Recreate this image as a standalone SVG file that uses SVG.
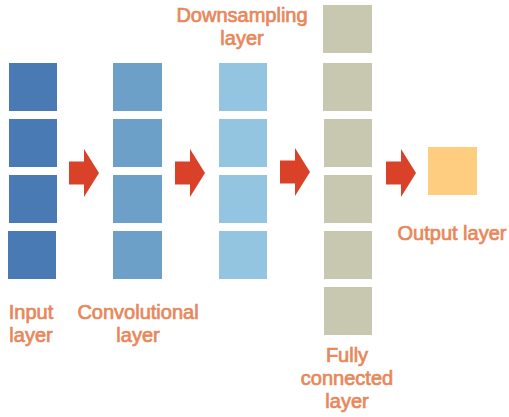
<svg xmlns="http://www.w3.org/2000/svg" width="509" height="417" viewBox="0 0 509 417">
<style>
  .lbl { font-family: "Liberation Sans", Arial, sans-serif; font-size: 20px; fill: #E8875A; stroke: #E8875A; stroke-width: 0.7px; text-anchor: middle; }
  .in { fill: #4A7AB4; }
  .cv { fill: #6CA0C8; }
  .ds { fill: #93C5E0; }
  .fc { fill: #C8C8B0; }
  .out { fill: #FECD80; }
  .arrow { fill: #DA4129; }
</style>
<defs>
  <path id="arr" d="M0,-11.5 H15 V-24 L30,0 L15,24 V11.5 H0 Z"/>
</defs>
<rect width="509" height="417" fill="#FFFFFF"/>
<g id="input-layer">
  <rect class="in" x="9" y="63" width="48" height="48"/>
  <rect class="in" x="9" y="119" width="48" height="48"/>
  <rect class="in" x="9" y="175" width="48" height="48"/>
  <rect class="in" x="8" y="231" width="48" height="48"/>
  <text class="lbl" x="31" y="318.5">Input</text>
  <text class="lbl" x="31" y="341.5">layer</text>
</g>
<g id="convolutional-layer">
  <rect class="cv" x="113" y="63" width="49" height="48"/>
  <rect class="cv" x="113" y="119" width="49" height="48"/>
  <rect class="cv" x="113" y="175" width="49" height="48"/>
  <rect class="cv" x="113" y="231" width="49" height="48"/>
  <text class="lbl" x="138" y="318.5">Convolutional</text>
  <text class="lbl" x="138" y="341.5">layer</text>
</g>
<g id="downsampling-layer">
  <rect class="ds" x="219" y="63" width="48" height="48"/>
  <rect class="ds" x="219" y="119" width="48" height="48"/>
  <rect class="ds" x="219" y="175" width="48" height="48"/>
  <rect class="ds" x="219" y="231" width="48" height="48"/>
  <text class="lbl" x="242" y="21.5">Downsampling</text>
  <text class="lbl" x="242" y="44.5">layer</text>
</g>
<g id="fully-connected-layer">
  <rect class="fc" x="323" y="5" width="49" height="48"/>
  <rect class="fc" x="323" y="63" width="49" height="48"/>
  <rect class="fc" x="324" y="119" width="48" height="48"/>
  <rect class="fc" x="324" y="175" width="48" height="48"/>
  <rect class="fc" x="324" y="231" width="48" height="48"/>
  <rect class="fc" x="324" y="287" width="48" height="48"/>
  <text class="lbl" x="347" y="362">Fully</text>
  <text class="lbl" x="347" y="385">connected</text>
  <text class="lbl" x="347" y="408">layer</text>
</g>
<g id="output-layer">
  <rect class="out" x="428" y="147" width="49" height="48"/>
  <text class="lbl" x="452" y="240">Output layer</text>
</g>
<g id="connectors">
  <use href="#arr" class="arrow" x="69" y="173"/>
  <use href="#arr" class="arrow" x="175" y="173"/>
  <use href="#arr" class="arrow" x="280" y="172"/>
  <use href="#arr" class="arrow" x="386" y="173"/>
</g>
</svg>
